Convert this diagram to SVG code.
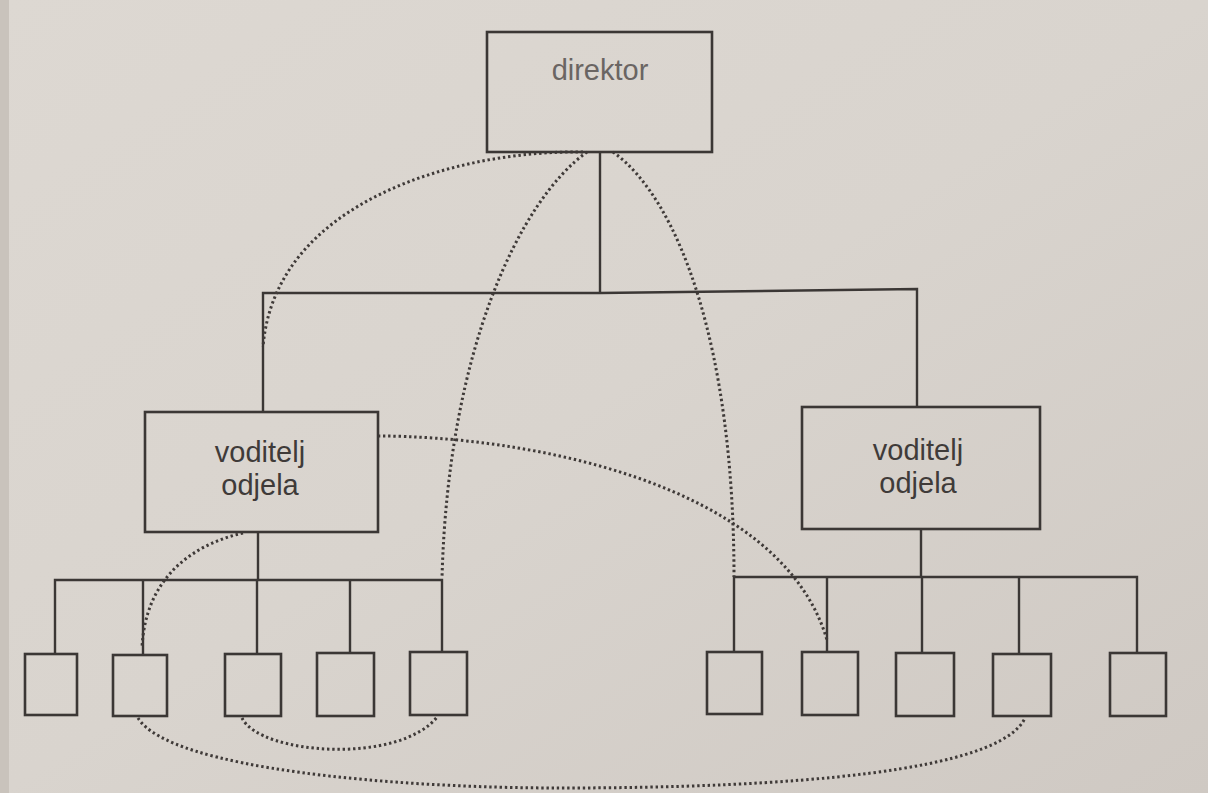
<svg xmlns="http://www.w3.org/2000/svg" width="1208" height="793" viewBox="0 0 1208 793">
<defs>
<linearGradient id="paper" x1="0" y1="0" x2="1" y2="1">
<stop offset="0" stop-color="#ddd8d2"/>
<stop offset="0.5" stop-color="#d9d4ce"/>
<stop offset="1" stop-color="#cfc9c3"/>
</linearGradient>
<style>
.box{fill:none;stroke:#3b3735;stroke-width:2.6}
.line{fill:none;stroke:#3b3735;stroke-width:2.4}
.dot{fill:none;stroke:#3f3a38;stroke-width:3;stroke-dasharray:2.4 2.8}
.lbl{font-family:"Liberation Sans",Arial,sans-serif;font-size:29px;text-anchor:middle;fill:#3f3b39}
.dir{fill:#6a6563;font-size:29px}
</style>
</defs>
<rect x="0" y="0" width="1208" height="793" fill="url(#paper)"/>
<rect x="0" y="0" width="9" height="793" fill="#c9c3bc"/>

<g id="connectors">
<polyline class="line" points="600,152 600,293"/>
<polyline class="line" points="263,412 263,293 600,293 917,289 917,407"/>
<polyline class="line" points="258,532 258,580"/>
<polyline class="line" points="55,654 55,580 442,580 442,652"/>
<line class="line" x1="143" y1="580" x2="143" y2="655"/>
<line class="line" x1="257" y1="580" x2="257" y2="654"/>
<line class="line" x1="350" y1="580" x2="350" y2="653"/>
<polyline class="line" points="921,529 921,577"/>
<polyline class="line" points="734,652 734,577 1137,577 1137,653"/>
<line class="line" x1="827" y1="577" x2="827" y2="652"/>
<line class="line" x1="922" y1="577" x2="922" y2="653"/>
<line class="line" x1="1019" y1="577" x2="1019" y2="654"/>

<path class="dot" d="M583,152 C460,150 275,200 263,347"/>
<path class="dot" d="M587,152 C520,200 448,350 442,578"/>
<path class="dot" d="M613,152 C680,200 734,350 734,577"/>
<path class="dot" d="M378,436 C520,436 780,480 827,640"/>
<path class="dot" d="M243,533 C190,545 145,580 142,648"/>
<path class="dot" d="M138,718 C170,770 400,788 560,788 C790,788 1000,772 1025,718"/>
<path class="dot" d="M242,718 C260,755 400,765 438,716"/>
</g>

<g id="director">
<rect class="box" x="487" y="32" width="225" height="120"/>
<text class="lbl dir" x="600" y="80">direktor</text>
</g>
<g id="manager-left">
<rect class="box" x="145" y="412" width="233" height="120"/>
<text class="lbl" x="260" y="462">voditelj</text>
<text class="lbl" x="260" y="495">odjela</text>
</g>
<g id="manager-right">
<rect class="box" x="802" y="407" width="238" height="122"/>
<text class="lbl" x="918" y="460">voditelj</text>
<text class="lbl" x="918" y="493">odjela</text>
</g>

<g id="worker-1"><rect class="box" x="25" y="654" width="52" height="61"/></g>
<g id="worker-2"><rect class="box" x="113" y="655" width="54" height="61"/></g>
<g id="worker-3"><rect class="box" x="225" y="654" width="56" height="62"/></g>
<g id="worker-4"><rect class="box" x="317" y="653" width="57" height="63"/></g>
<g id="worker-5"><rect class="box" x="410" y="652" width="57" height="63"/></g>
<g id="worker-6"><rect class="box" x="707" y="652" width="55" height="62"/></g>
<g id="worker-7"><rect class="box" x="802" y="652" width="56" height="63"/></g>
<g id="worker-8"><rect class="box" x="896" y="653" width="58" height="63"/></g>
<g id="worker-9"><rect class="box" x="993" y="654" width="58" height="62"/></g>
<g id="worker-10"><rect class="box" x="1110" y="653" width="56" height="63"/></g>
</svg>
